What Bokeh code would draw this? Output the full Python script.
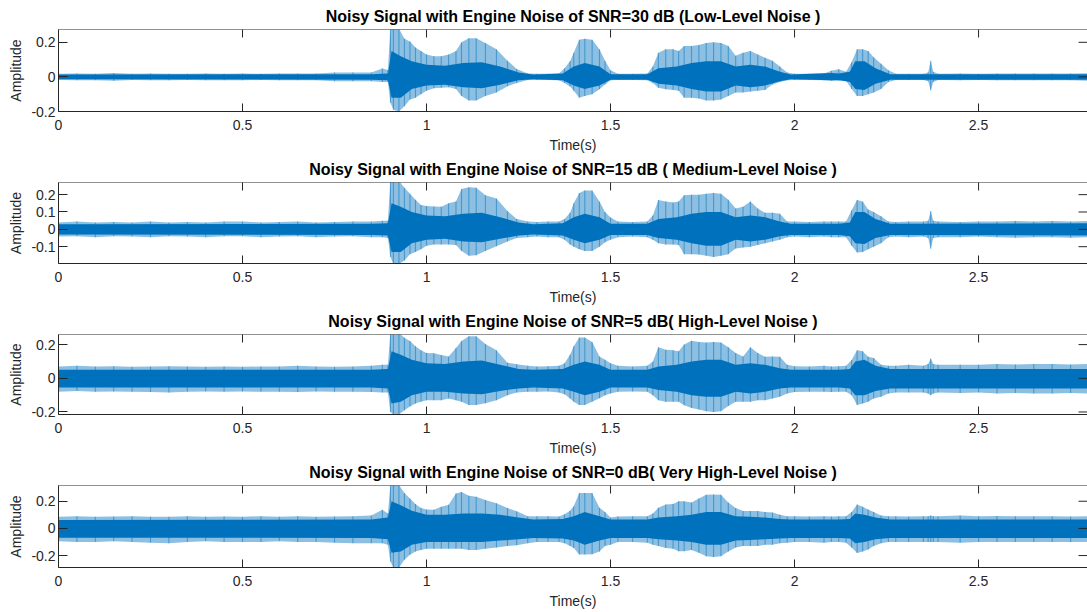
import math
from bokeh.plotting import figure
from bokeh.layouts import column
from bokeh.models import Range1d, FixedTicker, Span
from bokeh.embed import file_html
from bokeh.resources import INLINE

# ---------------- data ----------------
# knot times of the peak envelope (s)
TIME = [0.00, 0.05, 0.10, 0.15, 0.20, 0.25, 0.30, 0.35, 0.40, 0.45,
        0.50, 0.55, 0.60, 0.65, 0.70, 0.75, 0.80, 0.85, 0.88, 0.895,
        0.902, 0.91, 0.925, 0.94, 0.955, 0.97, 0.985, 1.00, 1.02, 1.04,
        1.06, 1.08, 1.095, 1.115, 1.135, 1.16, 1.19, 1.22, 1.245, 1.275,
        1.30, 1.33, 1.36, 1.375, 1.39, 1.40, 1.415, 1.43, 1.45, 1.47,
        1.485, 1.50, 1.52, 1.56, 1.60, 1.615, 1.63, 1.65, 1.67, 1.685,
        1.70, 1.72, 1.74, 1.76, 1.78, 1.80, 1.82, 1.84, 1.86, 1.88,
        1.90, 1.92, 1.94, 1.96, 1.98, 2.00, 2.04, 2.08, 2.10, 2.12,
        2.14, 2.155, 2.17, 2.185, 2.20, 2.215, 2.235, 2.255, 2.275, 2.31,
        2.35, 2.363, 2.37, 2.377, 2.39, 2.45, 2.50, 2.55, 2.60, 2.65,
        2.70, 2.75, 2.80]

# SNR = 30 dB : peak envelope (upper / lower)
snr30_hi = [0.018, 0.02, 0.018, 0.022, 0.018, 0.02, 0.018, 0.018, 0.02, 0.018,
            0.02, 0.018, 0.02, 0.02, 0.02, 0.025, 0.025, 0.025, 0.048, 0.04,
            0.28, 0.28, 0.28, 0.22, 0.205, 0.17, 0.15, 0.13, 0.12, 0.12,
            0.13, 0.15, 0.2, 0.224, 0.224, 0.196, 0.16, 0.094, 0.045, 0.02,
            0.018, 0.018, 0.02, 0.05, 0.09, 0.14, 0.215, 0.22, 0.215, 0.16,
            0.094, 0.039, 0.018, 0.018, 0.02, 0.06, 0.14, 0.16, 0.16, 0.15,
            0.178, 0.178, 0.185, 0.196, 0.2, 0.196, 0.178, 0.122, 0.14, 0.15,
            0.13, 0.11, 0.094, 0.06, 0.025, 0.018, 0.018, 0.02, 0.035, 0.044,
            0.03, 0.085, 0.16, 0.16, 0.15, 0.113, 0.076, 0.039, 0.018, 0.018,
            0.018, 0.025, 0.094, 0.03, 0.018, 0.02, 0.018, 0.02, 0.02, 0.02,
            0.02, 0.02, 0.022]
snr30_lo = [-0.018, -0.02, -0.02, -0.022, -0.018, -0.02, -0.02, -0.018, -0.02, -0.02,
            -0.02, -0.018, -0.02, -0.02, -0.02, -0.025, -0.025, -0.025, -0.03, -0.03,
            -0.15, -0.19, -0.2, -0.17, -0.13, -0.12, -0.10, -0.08, -0.065, -0.063,
            -0.06, -0.07, -0.11, -0.137, -0.137, -0.11, -0.09, -0.054, -0.035, -0.018,
            -0.018, -0.018, -0.02, -0.035, -0.055, -0.08, -0.12, -0.11, -0.10, -0.072,
            -0.044, -0.02, -0.018, -0.018, -0.02, -0.035, -0.063, -0.072, -0.075, -0.08,
            -0.12, -0.12, -0.125, -0.137, -0.137, -0.13, -0.11, -0.09, -0.09, -0.085,
            -0.08, -0.075, -0.044, -0.03, -0.02, -0.018, -0.018, -0.02, -0.022, -0.022,
            -0.022, -0.07, -0.11, -0.11, -0.10, -0.09, -0.07, -0.03, -0.018, -0.018,
            -0.018, -0.025, -0.078, -0.03, -0.018, -0.02, -0.018, -0.02, -0.02, -0.02,
            -0.02, -0.02, -0.022]

# SNR = 15 dB
snr15_hi = [0.04, 0.045, 0.04, 0.042, 0.04, 0.045, 0.04, 0.042, 0.04, 0.045,
            0.045, 0.04, 0.042, 0.045, 0.04, 0.042, 0.045, 0.045, 0.05, 0.05,
            0.28, 0.28, 0.28, 0.24, 0.205, 0.17, 0.14, 0.135, 0.132, 0.13,
            0.15, 0.16, 0.233, 0.242, 0.24, 0.196, 0.178, 0.105, 0.06, 0.045,
            0.042, 0.045, 0.045, 0.06, 0.095, 0.15, 0.21, 0.224, 0.224, 0.16,
            0.1, 0.068, 0.045, 0.042, 0.045, 0.08, 0.169, 0.16, 0.155, 0.16,
            0.196, 0.2, 0.2, 0.205, 0.21, 0.205, 0.17, 0.12, 0.13, 0.16,
            0.12, 0.095, 0.095, 0.09, 0.045, 0.045, 0.042, 0.045, 0.045, 0.045,
            0.045, 0.11, 0.169, 0.16, 0.115, 0.1, 0.075, 0.045, 0.042, 0.045,
            0.045, 0.05, 0.105, 0.05, 0.045, 0.042, 0.045, 0.045, 0.048, 0.045,
            0.048, 0.045, 0.048]
snr15_lo = [-0.042, -0.04, -0.045, -0.04, -0.042, -0.045, -0.04, -0.042, -0.045, -0.04,
            -0.04, -0.045, -0.042, -0.04, -0.045, -0.042, -0.04, -0.045, -0.045, -0.05,
            -0.16, -0.2, -0.2, -0.18, -0.143, -0.13, -0.115, -0.095, -0.088, -0.088,
            -0.088, -0.09, -0.125, -0.152, -0.15, -0.125, -0.097, -0.07, -0.05, -0.045,
            -0.042, -0.045, -0.045, -0.06, -0.088, -0.1, -0.115, -0.125, -0.125, -0.1,
            -0.075, -0.06, -0.045, -0.042, -0.045, -0.06, -0.08, -0.088, -0.088, -0.09,
            -0.143, -0.143, -0.145, -0.152, -0.16, -0.152, -0.143, -0.11, -0.105, -0.1,
            -0.09, -0.08, -0.07, -0.06, -0.045, -0.042, -0.045, -0.042, -0.045, -0.045,
            -0.045, -0.095, -0.134, -0.13, -0.115, -0.1, -0.08, -0.045, -0.042, -0.045,
            -0.042, -0.05, -0.112, -0.05, -0.045, -0.045, -0.042, -0.045, -0.048, -0.045,
            -0.045, -0.048, -0.045]

# SNR = 5 dB
snr5_hi = [0.07, 0.075, 0.07, 0.072, 0.068, 0.07, 0.072, 0.07, 0.068, 0.07,
           0.068, 0.07, 0.07, 0.075, 0.07, 0.068, 0.07, 0.075, 0.08, 0.08,
           0.27, 0.27, 0.27, 0.24, 0.222, 0.19, 0.167, 0.15, 0.148, 0.139,
           0.13, 0.18, 0.222, 0.25, 0.25, 0.204, 0.167, 0.093, 0.083, 0.075,
           0.07, 0.072, 0.075, 0.09, 0.14, 0.19, 0.242, 0.242, 0.215, 0.13,
           0.11, 0.09, 0.075, 0.07, 0.075, 0.1, 0.185, 0.17, 0.166, 0.16,
           0.2, 0.223, 0.215, 0.213, 0.215, 0.213, 0.185, 0.15, 0.13, 0.185,
           0.15, 0.128, 0.13, 0.128, 0.08, 0.072, 0.07, 0.075, 0.07, 0.072,
           0.075, 0.108, 0.166, 0.16, 0.128, 0.12, 0.08, 0.075, 0.075, 0.08,
           0.075, 0.085, 0.118, 0.085, 0.08, 0.08, 0.08, 0.085, 0.082, 0.085,
           0.085, 0.082, 0.085]
snr5_lo = [-0.08, -0.075, -0.08, -0.078, -0.08, -0.082, -0.085, -0.08, -0.078, -0.08,
           -0.078, -0.08, -0.08, -0.082, -0.078, -0.08, -0.08, -0.082, -0.085, -0.085,
           -0.2, -0.215, -0.215, -0.19, -0.167, -0.15, -0.139, -0.13, -0.13, -0.13,
           -0.12, -0.13, -0.139, -0.158, -0.158, -0.148, -0.13, -0.1, -0.085, -0.08,
           -0.08, -0.078, -0.085, -0.095, -0.12, -0.139, -0.158, -0.158, -0.14, -0.118,
           -0.1, -0.09, -0.08, -0.078, -0.08, -0.1, -0.13, -0.139, -0.139, -0.139,
           -0.16, -0.177, -0.185, -0.196, -0.2, -0.196, -0.165, -0.139, -0.139, -0.139,
           -0.13, -0.13, -0.12, -0.11, -0.09, -0.082, -0.08, -0.08, -0.082, -0.08,
           -0.08, -0.1, -0.158, -0.15, -0.139, -0.12, -0.11, -0.09, -0.085, -0.085,
           -0.085, -0.09, -0.1, -0.09, -0.085, -0.088, -0.085, -0.09, -0.088, -0.09,
           -0.09, -0.088, -0.09]

# SNR = 0 dB
snr0_hi = [0.085, 0.09, 0.085, 0.088, 0.09, 0.085, 0.085, 0.09, 0.085, 0.088,
           0.085, 0.09, 0.085, 0.09, 0.085, 0.088, 0.09, 0.095, 0.138, 0.11,
           0.32, 0.32, 0.32, 0.26, 0.221, 0.18, 0.15, 0.14, 0.138, 0.16,
           0.174, 0.257, 0.269, 0.24, 0.233, 0.21, 0.186, 0.15, 0.126, 0.09,
           0.09, 0.09, 0.088, 0.105, 0.13, 0.164, 0.26, 0.26, 0.26, 0.152,
           0.12, 0.081, 0.088, 0.09, 0.09, 0.11, 0.152, 0.176, 0.18, 0.2,
           0.2, 0.19, 0.22, 0.248, 0.25, 0.248, 0.19, 0.15, 0.129, 0.129,
           0.129, 0.12, 0.117, 0.1, 0.09, 0.09, 0.088, 0.09, 0.088, 0.09,
           0.09, 0.12, 0.176, 0.16, 0.14, 0.12, 0.095, 0.09, 0.09, 0.088,
           0.09, 0.09, 0.095, 0.09, 0.09, 0.095, 0.09, 0.092, 0.09, 0.09,
           0.09, 0.088, 0.09]
snr0_lo = [-0.095, -0.1, -0.1, -0.095, -0.1, -0.105, -0.11, -0.1, -0.095, -0.1,
           -0.1, -0.1, -0.095, -0.1, -0.1, -0.105, -0.11, -0.11, -0.11, -0.12,
           -0.243, -0.29, -0.29, -0.23, -0.195, -0.17, -0.16, -0.15, -0.15, -0.15,
           -0.15, -0.15, -0.15, -0.16, -0.16, -0.15, -0.14, -0.13, -0.125, -0.11,
           -0.1, -0.1, -0.1, -0.11, -0.13, -0.145, -0.193, -0.193, -0.19, -0.17,
           -0.13, -0.12, -0.1, -0.1, -0.105, -0.12, -0.13, -0.145, -0.15, -0.169,
           -0.169, -0.16, -0.18, -0.205, -0.21, -0.205, -0.17, -0.14, -0.13, -0.13,
           -0.13, -0.12, -0.12, -0.11, -0.105, -0.1, -0.1, -0.105, -0.1, -0.1,
           -0.105, -0.14, -0.181, -0.17, -0.155, -0.13, -0.11, -0.1, -0.1, -0.1,
           -0.1, -0.1, -0.1, -0.1, -0.1, -0.105, -0.1, -0.1, -0.1, -0.1,
           -0.1, -0.1, -0.1]

# knot times of the dense (dark) core of the waveform (s)
CORE_TIME = [0.0, 0.85, 0.895, 0.905, 0.93, 0.96, 1.0, 1.05, 1.1, 1.15,
             1.2, 1.25, 1.29, 1.37, 1.4, 1.43, 1.47, 1.5, 1.6, 1.63,
             1.68, 1.72, 1.76, 1.8, 1.84, 1.88, 1.92, 1.96, 1.99, 2.1,
             2.12, 2.15, 2.165, 2.19, 2.22, 2.26, 2.8]

snr30_core_hi = [0.014, 0.016, 0.02, 0.15, 0.12, 0.09, 0.07, 0.065, 0.08, 0.085,
                 0.06, 0.025, 0.014, 0.02, 0.06, 0.08, 0.06, 0.016, 0.016, 0.05,
                 0.06, 0.08, 0.09, 0.09, 0.06, 0.07, 0.06, 0.03, 0.014, 0.022,
                 0.02, 0.03, 0.09, 0.09, 0.05, 0.016, 0.016]
snr30_core_lo = [-0.014, -0.016, -0.02, -0.12, -0.12, -0.07, -0.05, -0.045, -0.06, -0.065,
                 -0.045, -0.02, -0.014, -0.02, -0.05, -0.07, -0.05, -0.016, -0.016, -0.04,
                 -0.05, -0.07, -0.085, -0.085, -0.05, -0.06, -0.05, -0.025, -0.014, -0.02,
                 -0.018, -0.03, -0.07, -0.075, -0.04, -0.016, -0.016]

snr15_core_hi = [0.03, 0.032, 0.035, 0.15, 0.13, 0.1, 0.08, 0.075, 0.09, 0.095,
                 0.07, 0.04, 0.03, 0.035, 0.07, 0.09, 0.07, 0.032, 0.032, 0.06,
                 0.07, 0.09, 0.1, 0.1, 0.07, 0.08, 0.07, 0.045, 0.032, 0.032,
                 0.032, 0.04, 0.1, 0.1, 0.06, 0.032, 0.035]
snr15_core_lo = [-0.03, -0.032, -0.035, -0.13, -0.13, -0.08, -0.06, -0.055, -0.07, -0.075,
                 -0.055, -0.035, -0.03, -0.035, -0.06, -0.08, -0.06, -0.032, -0.032, -0.05,
                 -0.06, -0.08, -0.095, -0.095, -0.06, -0.07, -0.06, -0.04, -0.032, -0.032,
                 -0.032, -0.04, -0.08, -0.085, -0.05, -0.032, -0.035]

snr5_core_hi = [0.05, 0.05, 0.055, 0.16, 0.14, 0.11, 0.09, 0.085, 0.1, 0.105,
                0.08, 0.055, 0.05, 0.055, 0.08, 0.1, 0.08, 0.05, 0.05, 0.07,
                0.08, 0.1, 0.11, 0.11, 0.08, 0.09, 0.08, 0.06, 0.05, 0.05,
                0.05, 0.055, 0.1, 0.11, 0.075, 0.055, 0.055]
snr5_core_lo = [-0.055, -0.055, -0.06, -0.15, -0.14, -0.1, -0.08, -0.08, -0.09, -0.095,
                -0.075, -0.06, -0.055, -0.06, -0.08, -0.1, -0.08, -0.055, -0.055, -0.07,
                -0.08, -0.1, -0.11, -0.11, -0.08, -0.09, -0.08, -0.06, -0.055, -0.055,
                -0.055, -0.06, -0.1, -0.1, -0.075, -0.06, -0.06]

snr0_core_hi = [0.062, 0.065, 0.08, 0.2, 0.17, 0.13, 0.1, 0.1, 0.11, 0.11,
                0.1, 0.08, 0.065, 0.07, 0.09, 0.12, 0.09, 0.065, 0.065, 0.08,
                0.09, 0.1, 0.12, 0.12, 0.09, 0.085, 0.08, 0.07, 0.065, 0.065,
                0.065, 0.07, 0.11, 0.1, 0.08, 0.065, 0.065]
snr0_core_lo = [-0.068, -0.07, -0.08, -0.18, -0.17, -0.12, -0.1, -0.1, -0.1, -0.1,
                -0.09, -0.08, -0.07, -0.075, -0.09, -0.12, -0.09, -0.07, -0.07, -0.08,
                -0.09, -0.1, -0.12, -0.12, -0.09, -0.085, -0.08, -0.075, -0.07, -0.07,
                -0.07, -0.075, -0.11, -0.1, -0.08, -0.07, -0.07]

TITLES = ["Noisy Signal with Engine Noise of SNR=30 dB (Low-Level Noise )",
          "Noisy Signal with Engine Noise of SNR=15 dB ( Medium-Level Noise )",
          "Noisy Signal with Engine Noise of SNR=5 dB( High-Level Noise )",
          "Noisy Signal with Engine Noise of SNR=0 dB( Very High-Level Noise )"]

X_TICKS = [0, 0.5, 1, 1.5, 2, 2.5]
X_TICK_LABELS = ["0", "0.5", "1", "1.5", "2", "2.5"]
Y_TICKS = [[-0.2, 0, 0.2], [-0.1, 0, 0.1, 0.2], [-0.2, 0, 0.2], [-0.2, 0, 0.2]]
Y_TICK_LABELS = [["-0.2", "0", "0.2"], ["-0.1", "0", "0.1", "0.2"],
                 ["-0.2", "0", "0.2"], ["-0.2", "0", "0.2"]]
Y_LIMITS = [(-0.2, 0.274), (-0.197, 0.27), (-0.215, 0.26), (-0.288, 0.316)]
X_LIMITS = (0, 2.796)

PEAKS = [(snr30_lo, snr30_hi), (snr15_lo, snr15_hi), (snr5_lo, snr5_hi), (snr0_lo, snr0_hi)]
CORES = [(snr30_core_lo, snr30_core_hi), (snr15_core_lo, snr15_core_hi),
         (snr5_core_lo, snr5_core_hi), (snr0_core_lo, snr0_core_hi)]

# ---------------- layout / style ----------------
FONT = "Liberation Sans"
AX = "#262626"
BLUE = "#0072BD"
HEIGHTS = [155, 152, 151, 154]
TOP_BORDERS = [29, 25, 25, 25]
BOTTOM_BORDERS = [43, 43, 43, 45]

figs = []
for i in range(4):
    p = figure(width=1087, height=HEIGHTS[i],
               x_range=Range1d(*X_LIMITS), y_range=Range1d(*Y_LIMITS[i]),
               output_backend="svg", toolbar_location=None,
               min_border_left=58, min_border_right=0,
               min_border_top=TOP_BORDERS[i], min_border_bottom=BOTTOM_BORDERS[i],
               title=TITLES[i], x_axis_label="Time(s)", y_axis_label="Amplitude")
    p.outline_line_color = None
    p.xgrid.visible = False
    p.ygrid.visible = False
    p.background_fill_color = "white"
    p.border_fill_color = "white"

    lo, hi = PEAKS[i]
    clo, chi = CORES[i]
    p.varea(x=TIME, y1=lo, y2=hi, fill_color=BLUE, fill_alpha=0.45)
    p.segment(x0=TIME, y0=lo, x1=TIME, y1=hi, line_color=BLUE, line_alpha=0.5, line_width=1.1)
    p.varea(x=CORE_TIME, y1=clo, y2=chi, fill_color=BLUE, fill_alpha=1.0)

    # box: top border line with inward ticks, right-side inward ticks
    ytop = Y_LIMITS[i][1]
    p.add_layout(Span(location=ytop, dimension="width", line_color=AX, line_width=1))
    p.scatter(x=X_TICKS, y=[ytop] * len(X_TICKS), marker="dash", angle=math.pi / 2,
              size=16, line_color=AX, line_width=1)
    p.scatter(x=[X_LIMITS[1]] * len(Y_TICKS[i]), y=Y_TICKS[i], marker="dash",
              size=18, line_color=AX, line_width=1)

    p.title.text_font = FONT
    p.title.text_font_size = "16px"
    p.title.text_font_style = "bold"
    p.title.text_color = "black"
    p.title.align = "center"
    p.title.vertical_align = "middle"
    p.title.standoff = 8

    xt = FixedTicker(ticks=X_TICKS)
    yt = FixedTicker(ticks=Y_TICKS[i])
    xo = {t: s for t, s in zip(X_TICKS, X_TICK_LABELS)}
    yo = {t: s for t, s in zip(Y_TICKS[i], Y_TICK_LABELS[i])}

    for ax, tk, ov, tin in ((p.xaxis[0], xt, xo, 8), (p.yaxis[0], yt, yo, 9)):
        ax.ticker = tk
        ax.major_label_overrides = ov
        ax.axis_line_color = AX
        ax.major_tick_line_color = AX
        ax.minor_tick_line_color = None
        ax.major_tick_in = tin
        ax.major_tick_out = 0
        ax.major_label_text_font = FONT
        ax.major_label_text_font_size = "14px"
        ax.major_label_text_color = AX
        ax.axis_label_text_font = FONT
        ax.axis_label_text_font_size = "14px"
        ax.axis_label_text_font_style = "normal"
        ax.axis_label_text_color = AX
    p.xaxis[0].major_label_standoff = 8
    p.xaxis[0].axis_label_standoff = 4
    p.yaxis[0].major_label_standoff = 3
    p.yaxis[0].axis_label_standoff = 4
    figs.append(p)

layout = column(*figs, spacing=0)
open("out.html", "w").write(file_html(layout, INLINE))
